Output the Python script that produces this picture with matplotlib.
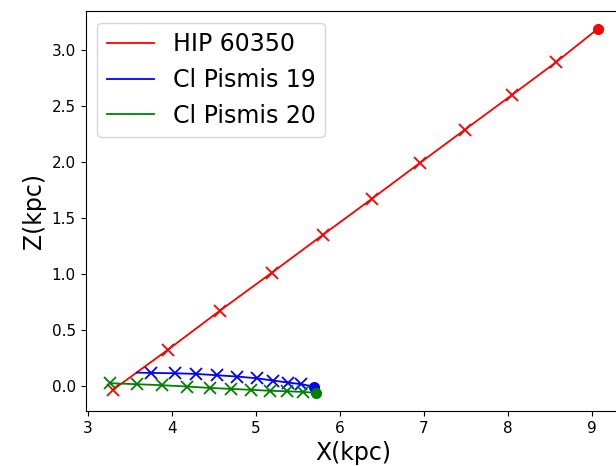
import matplotlib
matplotlib.use("Agg")
import matplotlib.pyplot as plt

# HIP 60350 orbit (X, Z) in kpc; last point is the present position
hip_x = [3.30, 3.95, 4.57, 5.19, 5.80, 6.38, 6.95, 7.49, 8.05, 8.57, 9.07]
hip_z = [-0.036, 0.32, 0.67, 1.01, 1.35, 1.67, 1.99, 2.29, 2.60, 2.89, 3.19]

# Cl Pismis 19 (line start has no marker)
p19_x = [3.58, 3.75, 4.03, 4.29, 4.54, 4.78, 5.01, 5.20, 5.38, 5.54, 5.69]
p19_z = [0.116, 0.113, 0.110, 0.104, 0.092, 0.080, 0.065, 0.045, 0.027, 0.012, -0.009]

# Cl Pismis 20
p20_x = [3.26, 3.58, 3.88, 4.18, 4.45, 4.70, 4.94, 5.17, 5.37, 5.56, 5.71]
p20_z = [0.021, 0.012, 0.003, -0.009, -0.021, -0.030, -0.038, -0.047, -0.051, -0.057, -0.065]

labels = ["HIP 60350", "Cl Pismis 19", "Cl Pismis 20"]
colors = ["red", "blue", "green"]

fig = plt.figure(figsize=(6.16, 4.66), dpi=100)
ax = fig.add_axes([0.1388, 0.118, 0.871, 0.859])

series = [(hip_x, hip_z, range(0, 10)), (p19_x, p19_z, range(1, 10)), (p20_x, p20_z, range(0, 10))]
for (xs, zs, mk), lab, c in zip(series, labels, colors):
    ax.plot(xs, zs, color=c, lw=1.3, label=lab)
    ax.plot([xs[i] for i in mk], [zs[i] for i in mk], ls="none", marker="x",
            color=c, ms=8, mew=1.3)
    ax.plot(xs[-1], zs[-1], ls="none", marker="o", color=c, ms=7)

ax.set_xlabel("X(kpc)", fontsize=17)
ax.set_ylabel("Z(kpc)", fontsize=17)
ax.tick_params(labelsize=11)
ax.set_xticks([3, 4, 5, 6, 7, 8, 9])
ax.set_yticks([0.0, 0.5, 1.0, 1.5, 2.0, 2.5, 3.0])
ax.legend(loc="upper left", fontsize=17)

fig.savefig("out.png", dpi=100)
